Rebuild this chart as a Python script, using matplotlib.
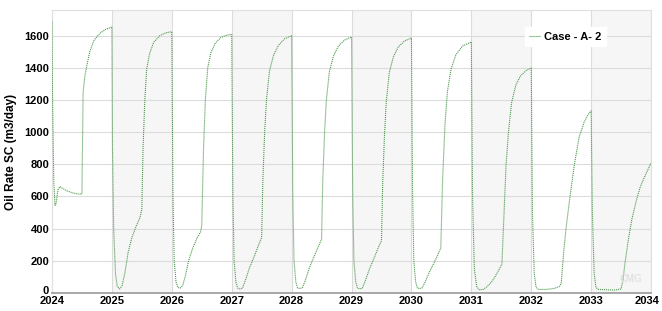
import matplotlib.pyplot as plt
import matplotlib.transforms as mtransforms

plt.rcParams['font.family'] = ['Liberation Sans', 'DejaVu Sans']

# time (decimal years) and oil rate (m3/day)
years = [
    2024.00, 2024.01, 2024.03, 2024.05, 2024.07, 2024.10, 2024.13, 2024.18, 2024.25, 2024.35,
    2024.45, 2024.50, 2024.52, 2024.55, 2024.58, 2024.63, 2024.70, 2024.80, 2024.90, 2025.00,
    2025.01, 2025.03, 2025.06, 2025.09, 2025.13, 2025.17, 2025.22, 2025.27, 2025.33, 2025.40,
    2025.47, 2025.50, 2025.52, 2025.55, 2025.58, 2025.63, 2025.70, 2025.80, 2025.90, 2026.00,
    2026.02, 2026.04, 2026.07, 2026.10, 2026.14, 2026.18, 2026.23, 2026.28, 2026.35, 2026.42,
    2026.48, 2026.50, 2026.53, 2026.56, 2026.60, 2026.65, 2026.72, 2026.82, 2026.92, 2027.00,
    2027.02, 2027.04, 2027.07, 2027.10, 2027.14, 2027.18, 2027.23, 2027.30, 2027.38, 2027.45,
    2027.50, 2027.52, 2027.55, 2027.58, 2027.63, 2027.70, 2027.78, 2027.88, 2028.00,
    2028.02, 2028.04, 2028.07, 2028.10, 2028.14, 2028.18, 2028.23, 2028.30, 2028.38, 2028.45,
    2028.50, 2028.52, 2028.55, 2028.58, 2028.63, 2028.70, 2028.78, 2028.88, 2029.00,
    2029.02, 2029.04, 2029.07, 2029.10, 2029.14, 2029.18, 2029.23, 2029.30, 2029.38, 2029.45,
    2029.50, 2029.52, 2029.55, 2029.58, 2029.63, 2029.70, 2029.78, 2029.88, 2030.00,
    2030.02, 2030.04, 2030.07, 2030.10, 2030.14, 2030.18, 2030.23, 2030.30, 2030.38, 2030.45,
    2030.49, 2030.52, 2030.56, 2030.60, 2030.66, 2030.74, 2030.85, 2031.00,
    2031.02, 2031.05, 2031.09, 2031.13, 2031.20, 2031.28, 2031.36, 2031.44, 2031.51, 2031.54,
    2031.58, 2031.62, 2031.67, 2031.74, 2031.82, 2031.92, 2032.00,
    2032.02, 2032.05, 2032.08, 2032.12, 2032.25, 2032.38, 2032.47, 2032.50, 2032.54, 2032.58,
    2032.64, 2032.72, 2032.80, 2032.88, 2032.95, 2033.00,
    2033.02, 2033.05, 2033.08, 2033.12, 2033.25, 2033.40, 2033.50, 2033.53, 2033.57, 2033.62,
    2033.68, 2033.75, 2033.82, 2033.90, 2034.00,
]
oil_rate = [
    1690, 1200, 700, 545, 560, 640, 662, 650, 635, 622,
    615, 616, 1250, 1350, 1410, 1500, 1570, 1615, 1640, 1654,
    900, 400, 120, 40, 25, 45, 130, 250, 340, 410,
    470, 520, 900, 1200, 1390, 1490, 1560, 1600, 1618, 1625,
    600, 200, 70, 35, 30, 45, 110, 200, 280, 340,
    380, 420, 900, 1200, 1400, 1490, 1550, 1590, 1603, 1608,
    600, 200, 70, 30, 25, 30, 80, 160, 230, 300,
    345, 700, 1000, 1200, 1380, 1480, 1540, 1580, 1600,
    600, 200, 70, 30, 28, 32, 80, 160, 230, 290,
    335, 700, 1000, 1200, 1375, 1475, 1535, 1572, 1592,
    600, 200, 70, 30, 25, 30, 75, 150, 220, 285,
    325, 680, 980, 1190, 1370, 1470, 1530, 1566, 1586,
    600, 200, 70, 30, 28, 32, 70, 130, 190, 245,
    280, 700, 1050, 1250, 1390, 1480, 1535, 1561,
    600, 150, 40, 20, 22, 45, 80, 130, 180, 450,
    800, 1000, 1180, 1290, 1350, 1385, 1399,
    500, 120, 35, 22, 22, 28, 40, 60, 250, 400,
    580, 800, 970, 1060, 1110, 1133,
    500, 120, 35, 22, 20, 18, 25, 80, 200, 330,
    460, 570, 660, 730, 808,
]
shaded_years = [2025, 2027, 2029, 2031, 2033]
year_ticks = list(range(2024, 2035))
rate_ticks = list(range(0, 1601, 200))

fig = plt.figure(figsize=(6.62, 3.11), dpi=100)
ax = fig.add_axes([0.0785, 0.058, 0.905, 0.910])

for y in shaded_years:
    ax.axvspan(y, y + 1, color='#f6f6f6', lw=0, zorder=0)

ax.plot(years, oil_rate, color='#4f9a4f', lw=0.8, linestyle=(0, (1, 0.8)),
        label='Case - A- 2', zorder=3)

ax.set_xlim(2024, 2034)
ax.set_ylim(0, 1760)
ax.set_xticks(year_ticks)
ax.set_xticklabels([str(y) for y in year_ticks], fontweight='bold', fontsize=8)
ax.set_yticks(rate_ticks)
ax.set_yticklabels([str(v) for v in rate_ticks], fontweight='bold', fontsize=8)
ax.tick_params(length=0, pad=2)
ax.grid(True, color='#dcdcdc', lw=0.8, zorder=1)
ax.set_axisbelow(True)
for side in ['top', 'right', 'left']:
    ax.spines[side].set_color('#e0e0e0')
ax.spines['bottom'].set_color('#999999')
ax.spines['bottom'].set_linewidth(1.2)

# nudge the corner labels so they do not collide or run off the edge
xlabels = ax.get_xticklabels()
xlabels[-1].set_transform(xlabels[-1].get_transform()
                          + mtransforms.ScaledTranslation(-0.04, 0, fig.dpi_scale_trans))
ylabels = ax.get_yticklabels()
ylabels[0].set_transform(ylabels[0].get_transform()
                         + mtransforms.ScaledTranslation(0, 0.03, fig.dpi_scale_trans))

ax.set_ylabel('Oil Rate SC (m3/day)', fontweight='bold', fontsize=8.5, labelpad=5)

ax.legend(loc='center left', bbox_to_anchor=(0.78, 0.905), frameon=True,
          fancybox=False, edgecolor='white', facecolor='white', framealpha=1,
          handlelength=1.0, handletextpad=0.3, borderpad=0.4,
          prop={'weight': 'bold', 'size': 8})

ax.text(0.985, 0.03, 'CMG', transform=ax.transAxes, ha='right', va='bottom',
        color='#e2e2e2', fontsize=7, fontweight='bold')

plt.savefig('out.png', dpi=100)
